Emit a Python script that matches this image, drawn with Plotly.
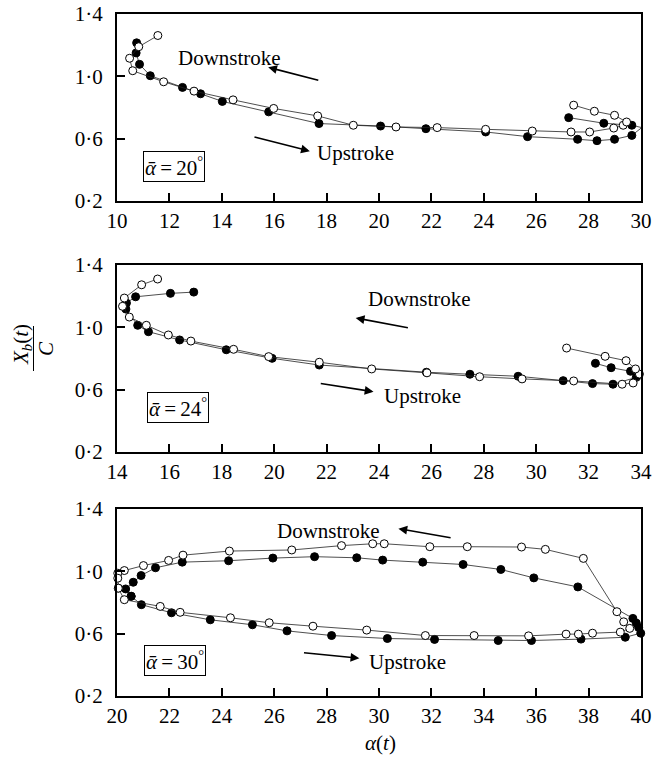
import plotly.graph_objects as go

# ---------------- data ----------------
# Panel 1: mean alpha = 20 deg
p1_open_alpha = [11.56, 10.83, 10.48, 10.60, 11.78, 12.94, 14.43, 15.98, 17.66, 19.02, 20.65, 22.22,
                 24.07, 25.85, 27.33, 28.04, 28.96, 29.32, 29.45, 28.99, 28.22, 27.43]
p1_open_xb = [1.262, 1.190, 1.116, 1.036, 0.965, 0.905, 0.849, 0.794, 0.746, 0.686, 0.675, 0.671,
              0.660, 0.649, 0.643, 0.643, 0.668, 0.686, 0.707, 0.750, 0.776, 0.815]
p1_filled_alpha = [27.24, 28.58, 29.65, 30.03, 29.65, 28.99, 28.32, 27.58, 25.67, 24.07, 21.79, 20.06,
                   17.71, 15.79, 14.02, 13.19, 12.50, 11.27, 10.86, 10.73, 10.75]
p1_filled_xb = [0.735, 0.699, 0.686, 0.671, 0.621, 0.596, 0.587, 0.596, 0.613, 0.643, 0.664, 0.681,
                0.697, 0.772, 0.839, 0.888, 0.929, 1.004, 1.077, 1.150, 1.215]

# Panel 2: mean alpha = 24 deg
p2_open_alpha = [15.55, 14.94, 14.28, 14.21, 14.47, 15.12, 15.96, 16.82, 18.45, 19.79, 21.72, 23.72,
                 25.83, 27.84, 29.46, 31.43, 33.28, 33.70, 34.02, 33.94, 33.79, 33.43, 32.63, 31.16]
p2_open_xb = [1.310, 1.273, 1.188, 1.135, 1.066, 1.013, 0.951, 0.912, 0.859, 0.812, 0.776, 0.733,
              0.708, 0.683, 0.669, 0.656, 0.635, 0.643, 0.673, 0.700, 0.733, 0.786, 0.814, 0.867]
p2_filled_alpha = [16.93, 16.04, 14.71, 14.36, 14.34, 14.79, 15.20, 16.39, 18.17, 19.92, 21.72, 25.81,
                   27.47, 29.31, 31.03, 32.15, 32.93, 33.82, 33.60, 32.86, 32.26]
p2_filled_xb = [1.226, 1.218, 1.196, 1.156, 1.117, 1.013, 0.972, 0.919, 0.856, 0.801, 0.758, 0.712,
                0.699, 0.686, 0.658, 0.639, 0.635, 0.679, 0.718, 0.741, 0.769]

# Panel 3: mean alpha = 30 deg
p3_open_alpha = [20.05, 20.28, 21.65, 22.41, 24.33, 25.81, 27.48, 29.53, 31.77, 33.63, 35.71, 37.14,
                 37.61, 38.15, 39.21, 39.57, 39.34, 39.08, 37.80, 36.35, 35.44, 33.37, 31.94, 30.20,
                 29.76, 28.57, 26.67, 24.29, 22.52, 21.97, 21.01, 20.28, 20.03, 20.03, 20.05]
p3_open_xb = [0.892, 0.818, 0.775, 0.737, 0.702, 0.670, 0.648, 0.623, 0.588, 0.588, 0.586, 0.597,
              0.597, 0.603, 0.610, 0.634, 0.676, 0.741, 1.083, 1.141, 1.156, 1.158, 1.158, 1.177,
              1.177, 1.165, 1.137, 1.130, 1.104, 1.070, 1.037, 1.005, 0.988, 0.956, 0.892]
p3_filled_alpha = [20.54, 20.93, 22.08, 23.56, 25.17, 26.49, 28.19, 30.32, 32.12, 34.55, 35.82, 37.71,
                   39.40, 39.99, 39.91, 39.82, 39.69, 37.59, 35.91, 34.65, 33.21, 31.67, 30.14, 29.15,
                   27.54, 25.95, 24.26, 22.49, 21.47, 20.92, 20.62, 20.33, 20.54]
p3_filled_xb = [0.840, 0.786, 0.734, 0.689, 0.657, 0.618, 0.588, 0.569, 0.563, 0.556, 0.556, 0.565,
                0.577, 0.603, 0.640, 0.668, 0.698, 0.900, 0.958, 1.012, 1.044, 1.059, 1.072, 1.087,
                1.094, 1.085, 1.068, 1.059, 1.023, 0.973, 0.930, 0.887, 0.840]

x_ticks_p1 = list(range(10, 31, 2))
x_ticks_p2 = list(range(14, 35, 2))
x_ticks_p3 = list(range(20, 41, 2))
y_tickvals = [0.2, 0.6, 1.0, 1.4]
y_ticktext = ["0·2", "0·6", "1·0", "1·4"]
mean_labels = ["20", "24", "30"]

# ---------------- figure ----------------
FONT = "Liberation Serif, Times New Roman, serif"
FS = 21
W, H = 654, 762
# plot area in page pixels: left 117, right 641, top 14, bottom 696
ML, MR, MT, MB = 117, 654 - 641, 14, 762 - 696
PW, PH = W - ML - MR, H - MT - MB


def pxx(px):
    return (px - ML) / PW


def pxy(py):
    return (H - MB - py) / PH


fig = go.Figure()

panels = [
    (p1_open_alpha, p1_open_xb, p1_filled_alpha, p1_filled_xb, "x", "y"),
    (p2_open_alpha, p2_open_xb, p2_filled_alpha, p2_filled_xb, "x2", "y2"),
    (p3_open_alpha, p3_open_xb, p3_filled_alpha, p3_filled_xb, "x3", "y3"),
]
for oa, ob, fa, fb, xa, ya in panels:
    fig.add_trace(go.Scatter(x=fa, y=fb, mode="lines+markers", xaxis=xa, yaxis=ya,
                             line=dict(color="#222", width=0.8),
                             marker=dict(symbol="circle", size=8, color="black",
                                         line=dict(color="black", width=1)),
                             cliponaxis=False, showlegend=False))
    fig.add_trace(go.Scatter(x=oa, y=ob, mode="lines+markers", xaxis=xa, yaxis=ya,
                             line=dict(color="#222", width=0.8),
                             marker=dict(symbol="circle", size=8, color="white",
                                         line=dict(color="black", width=1)),
                             cliponaxis=False, showlegend=False))

axis_common = dict(showline=True, linecolor="black", linewidth=2, mirror=True,
                   ticks="inside", ticklen=8, tickwidth=1.5, tickcolor="black",
                   showgrid=False, zeroline=False, automargin=False,
                   tickfont=dict(family=FONT, size=FS, color="black"))

ydoms = [[pxy(201), pxy(14)], [pxy(452), pxy(265)], [pxy(696), pxy(509)]]
xranges = [[10, 30], [14, 34], [20, 40]]
xticks = [x_ticks_p1, x_ticks_p2, x_ticks_p3]
layout = dict(width=W, height=H, margin=dict(l=ML, r=MR, t=MT, b=MB, autoexpand=False),
              plot_bgcolor="white", paper_bgcolor="white",
              font=dict(family=FONT, size=FS, color="black"))
for i in range(3):
    sx = "" if i == 0 else str(i + 1)
    layout["xaxis" + sx] = dict(axis_common, range=xranges[i], tickvals=xticks[i],
                                anchor="y" + sx, domain=[0, 1], ticklabelstandoff=0)
    layout["yaxis" + sx] = dict(axis_common, range=[0.2, 1.4], tickvals=y_tickvals,
                                ticktext=y_ticktext, anchor="x" + sx, domain=ydoms[i],
                                ticklabelstandoff=8)
fig.update_layout(**layout)

ann = []
# text labels (x, y in data coords)
texts = [
    ("x", "y", 14.30, 1.118, "Downstroke"),
    ("x", "y", 19.12, 0.505, "Upstroke"),
    ("x2", "y2", 25.55, 1.18, "Downstroke"),
    ("x2", "y2", 25.67, 0.562, "Upstroke"),
    ("x3", "y3", 28.07, 1.26, "Downstroke"),
    ("x3", "y3", 31.07, 0.416, "Upstroke"),
]
for xr, yr, x, y, t in texts:
    ann.append(dict(xref=xr, yref=yr, x=x, y=y, text=t, showarrow=False,
                    xanchor="center", yanchor="middle",
                    font=dict(family=FONT, size=FS, color="black")))

# arrows: (head x, head y, tail x, tail y)
arrows = [
    ("x", "y", 15.77, 1.058, 17.74, 0.972),
    ("x", "y", 17.36, 0.520, 15.19, 0.613),
    ("x2", "y2", 23.11, 1.060, 25.16, 0.996),
    ("x2", "y2", 23.79, 0.587, 21.72, 0.641),
    ("x3", "y3", 30.74, 1.274, 32.79, 1.214),
    ("x3", "y3", 29.25, 0.442, 27.08, 0.479),
]
for xr, yr, hx, hy, tx, ty in arrows:
    ann.append(dict(xref=xr, yref=yr, axref=xr, ayref=yr, x=hx, y=hy, ax=tx, ay=ty,
                    text="", showarrow=True, arrowhead=2, arrowsize=1.1, arrowwidth=1.6,
                    arrowcolor="black", standoff=0, startstandoff=0))

# mean-angle boxes
boxes = [("x", "y", 12.16, 0.42), ("x2", "y2", 16.31, 0.487), ("x3", "y3", 22.21, 0.429)]
for (xr, yr, x, y), lab in zip(boxes, mean_labels):
    ann.append(dict(xref=xr, yref=yr, x=x, y=y,
                    text="<i>ᾱ</i>\u2009=\u2009" + lab + "<sup>°</sup>",
                    xanchor="center", yanchor="middle",
                    showarrow=False, bordercolor="black", borderwidth=1, borderpad=1,
                    bgcolor="white", font=dict(family=FONT, size=FS, color="black")))

# y axis title as a fraction
ann.append(dict(xref="paper", yref="paper", x=pxx(22), y=pxy(345), textangle=-90,
                xanchor="center", yanchor="middle",
                text="<i>X<sub>b</sub></i>(<i>t</i>)", showarrow=False,
                font=dict(family=FONT, size=FS, color="black")))
ann.append(dict(xref="paper", yref="paper", x=pxx(46), y=pxy(349), textangle=-90,
                xanchor="center", yanchor="middle",
                text="<i>C</i>", showarrow=False,
                font=dict(family=FONT, size=FS, color="black")))
# x axis title
ann.append(dict(xref="paper", yref="paper", x=pxx(380), y=pxy(743),
                xanchor="center", yanchor="middle",
                text="<i>α</i>(<i>t</i>)", showarrow=False,
                font=dict(family=FONT, size=FS, color="black")))
fig.update_layout(annotations=ann)

fig.add_shape(type="line", xref="paper", yref="paper",
              x0=pxx(33.5), x1=pxx(33.5), y0=pxy(326), y1=pxy(371),
              line=dict(color="black", width=1))

# remove the default page margin so the figure sits at the window's top-left corner
fig.write_html("out.html", config={"displayModeBar": False},
               post_script="document.body.style.margin='0';")
